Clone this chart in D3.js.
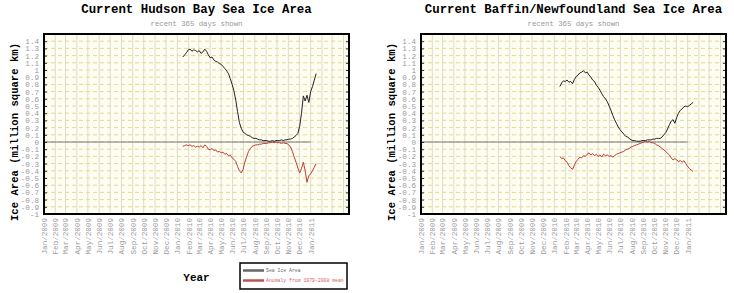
<!DOCTYPE html>
<html>
<head>
<meta charset="utf-8">
<script src="https://cdn.jsdelivr.net/npm/d3@7"></script>
<style>
  body { margin: 0; background: #fff; }
  text { font-family: "Liberation Mono", "DejaVu Sans Mono", monospace; }
</style>
</head>
<body>
<script>
// recent 365 days, one reading every 5 days starting here
var startDate = new Date(2010, 0, 16);
var stepDays = 5;

var hudsonArea = [
  1.18, 1.21, 1.24, 1.28, 1.29, 1.26, 1.28, 1.27, 1.25, 1.27,
  1.23, 1.25, 1.29, 1.26, 1.21, 1.17, 1.18, 1.14, 1.12, 1.11,
  1.09, 1.08, 1.05, 1.02, 0.99, 0.95, 0.88, 0.80, 0.71, 0.58,
  0.42, 0.27, 0.19, 0.14, 0.12, 0.10, 0.09, 0.08, 0.06, 0.05,
  0.05, 0.04, 0.03, 0.03, 0.02, 0.02, 0.02, 0.01, 0.01, 0.02,
  0.01, 0.02, 0.02, 0.02, 0.03, 0.02, 0.03, 0.03, 0.04, 0.04,
  0.05, 0.07, 0.09, 0.12, 0.22, 0.40, 0.64, 0.57, 0.65, 0.55,
  0.70, 0.77, 0.86, 0.95
];
var hudsonAnomaly = [
  -0.06, -0.05, -0.04, -0.05, -0.04, -0.06, -0.05, -0.07, -0.06, -0.07,
  -0.05, -0.08, -0.04, -0.06, -0.10, -0.11, -0.09, -0.12, -0.11, -0.14,
  -0.13, -0.15, -0.14, -0.17, -0.16, -0.19, -0.18, -0.22, -0.24, -0.27,
  -0.34, -0.40, -0.43, -0.38, -0.28, -0.20, -0.13, -0.09, -0.06, -0.05,
  -0.04, -0.04, -0.03, -0.03, -0.02, -0.02, -0.02, -0.01, -0.01, 0.00,
  -0.01, 0.00, -0.01, -0.01, -0.02, -0.01, -0.02, -0.02, -0.04, -0.07,
  -0.13, -0.21, -0.28, -0.36, -0.43, -0.37, -0.28, -0.40, -0.56, -0.47,
  -0.44, -0.40, -0.35, -0.30
];
var baffinArea = [
  0.77, 0.82, 0.85, 0.84, 0.86, 0.83, 0.84, 0.81, 0.87, 0.91,
  0.93, 0.96, 0.97, 0.99, 0.96, 0.97, 0.93, 0.90, 0.86, 0.84,
  0.79, 0.76, 0.72, 0.67, 0.63, 0.60, 0.56, 0.50, 0.44, 0.37,
  0.31, 0.26, 0.21, 0.17, 0.14, 0.11, 0.08, 0.07, 0.05, 0.03,
  0.02, 0.02, 0.01, 0.01, 0.01, 0.02, 0.02, 0.02, 0.03, 0.03,
  0.03, 0.04, 0.04, 0.05, 0.05, 0.05, 0.07, 0.10, 0.13, 0.18,
  0.24, 0.29, 0.31, 0.26, 0.34, 0.40, 0.44, 0.46, 0.49, 0.50,
  0.49, 0.51, 0.53, 0.55
];
var baffinAnomaly = [
  -0.20, -0.23, -0.22, -0.26, -0.28, -0.33, -0.36, -0.38, -0.32, -0.27,
  -0.24, -0.21, -0.22, -0.19, -0.20, -0.17, -0.15, -0.18, -0.16, -0.19,
  -0.17, -0.20, -0.18, -0.21, -0.17, -0.19, -0.18, -0.20, -0.19, -0.21,
  -0.19, -0.17, -0.16, -0.15, -0.14, -0.13, -0.11, -0.10, -0.09, -0.07,
  -0.06, -0.05, -0.04, -0.03, -0.02, -0.01, 0.00, 0.01, 0.00, 0.01,
  -0.01, -0.01, -0.02, -0.04, -0.05, -0.07, -0.09, -0.11, -0.13, -0.16,
  -0.18, -0.22, -0.25, -0.23, -0.25, -0.27, -0.26, -0.28, -0.26, -0.30,
  -0.34, -0.37, -0.39, -0.41
];

var yTicks = [1.4, 1.3, 1.2, 1.1, 1, 0.9, 0.8, 0.7, 0.6, 0.5, 0.4, 0.3, 0.2, 0.1, 0,
  -0.1, -0.2, -0.3, -0.4, -0.5, -0.6, -0.7, -0.8, -0.9, -1];
var monthLabels = d3.timeMonth.range(new Date(2009, 0, 1), new Date(2011, 0, 2));
var legendLabels = ['Sea Ice Area', 'Anomaly from 1979-2008 mean'];

var W = 734, H = 293;
var AREA_COLOR = '#222', ANOM_COLOR = '#c03a3a';

var svg = d3.select('body').append('svg')
  .attr('width', W)
  .attr('height', H);

function toSeries(values) {
  return values.map(function(v, i) {
    return { date: d3.timeDay.offset(startDate, i * stepDays), value: v };
  });
}

function drawPanel(left, title, area, anomaly, withLegend) {
  var top = 34, bottom = 214, width = 305;
  var g = svg.append('g');

  var x = d3.scaleTime()
    .domain([new Date(2009, 0, 1), new Date(2011, 3, 16)])
    .range([left, left + width]);
  var y = d3.scaleLinear()
    .domain([-1, 1.5])
    .range([bottom, top]);

  g.append('rect')
    .attr('x', left).attr('y', top)
    .attr('width', width).attr('height', bottom - top)
    .attr('fill', '#fdfdf1');

  // month grid
  g.append('g').selectAll('line')
      .data(d3.timeMonth.range(new Date(2009, 0, 1), new Date(2011, 3, 16)))
    .enter().append('line')
      .attr('x1', function(d) { return x(d); })
      .attr('x2', function(d) { return x(d); })
      .attr('y1', top).attr('y2', bottom)
      .attr('stroke', '#dcdcd4')
      .attr('stroke-width', 1);

  // value grid
  g.append('g').selectAll('line')
      .data(d3.range(-9, 15).map(function(d) { return d / 10; }))
    .enter().append('line')
      .attr('x1', left).attr('x2', left + width)
      .attr('y1', function(d) { return y(d); })
      .attr('y2', function(d) { return y(d); })
      .attr('stroke', '#e8d88e')
      .attr('stroke-dasharray', '4,3')
      .attr('stroke-width', 1);

  // zero line
  g.append('line')
    .attr('x1', x(new Date(2009, 0, 1))).attr('x2', x(new Date(2011, 0, 1)))
    .attr('y1', y(0)).attr('y2', y(0))
    .attr('stroke', '#777').attr('stroke-width', 1.2);

  var line = d3.line()
    .x(function(d) { return x(d.date); })
    .y(function(d) { return y(d.value); });

  g.append('path').datum(toSeries(area))
    .attr('d', line).attr('fill', 'none')
    .attr('stroke', AREA_COLOR).attr('stroke-width', 1);
  g.append('path').datum(toSeries(anomaly))
    .attr('d', line).attr('fill', 'none')
    .attr('stroke', ANOM_COLOR).attr('stroke-width', 1);

  // axes
  var ya = g.append('g')
    .attr('transform', 'translate(' + left + ',0)')
    .call(d3.axisLeft(y).tickValues(yTicks).tickSizeInner(-3).tickSizeOuter(0)
      .tickPadding(5).tickFormat(function(d) { return String(d); }));
  ya.select('.domain').remove();
  ya.selectAll('line').attr('stroke', '#333');
  ya.selectAll('text').attr('fill', '#999').style('font-size', '7.6px')
    .style('font-family', '"Liberation Mono", monospace');

  var yr = g.append('g')
    .attr('transform', 'translate(' + (left + width) + ',0)')
    .call(d3.axisRight(y).tickValues(yTicks).tickSizeInner(-3).tickSizeOuter(0)
      .tickFormat(''));
  yr.select('.domain').remove();
  yr.selectAll('line').attr('stroke', '#333');

  var xa = g.append('g')
    .attr('transform', 'translate(0,' + bottom + ')')
    .call(d3.axisBottom(x).tickValues(monthLabels).tickSize(0)
      .tickFormat(d3.timeFormat('%b/%Y')));
  xa.select('.domain').remove();
  xa.selectAll('text')
    .attr('transform', 'rotate(-90)')
    .attr('text-anchor', 'end')
    .attr('x', -4).attr('y', 0).attr('dy', '0.32em')
    .attr('fill', '#999').style('font-size', '7.6px')
    .style('font-family', '"Liberation Mono", monospace');

  g.append('rect')
    .attr('x', left).attr('y', top)
    .attr('width', width).attr('height', bottom - top)
    .attr('fill', 'none').attr('stroke', '#000').attr('stroke-width', 2);

  var cx = left + width / 2;
  g.append('text').text(title)
    .attr('x', cx).attr('y', 13)
    .attr('text-anchor', 'middle')
    .style('font-size', '12.4px').style('font-weight', 'bold');
  g.append('text').text('recent 365 days shown')
    .attr('x', cx).attr('y', 25.5)
    .attr('text-anchor', 'middle')
    .attr('fill', '#999')
    .style('font-size', '7.3px');

  g.append('text').text('Ice Area (million square km)')
    .attr('transform', 'translate(' + (left - 26) + ',' + ((top + bottom) / 2 + 8) + ') rotate(-90)')
    .attr('text-anchor', 'middle')
    .style('font-size', '10.6px').style('font-weight', 'bold');

  if (withLegend) {
    g.append('text').text('Year')
      .attr('x', cx).attr('y', 281)
      .attr('text-anchor', 'middle')
      .style('font-size', '11px').style('font-weight', 'bold');

    var lg = g.append('g');
    lg.append('rect')
      .attr('x', 240).attr('y', 263).attr('width', 107).attr('height', 26)
      .attr('fill', '#fff').attr('stroke', '#000').attr('stroke-width', 1.5);
    lg.selectAll('line.key')
        .data(legendLabels)
      .enter().append('line')
        .attr('class', 'key')
        .attr('x1', 243).attr('x2', 264)
        .attr('y1', function(d, i) { return 270.5 + i * 10; })
        .attr('y2', function(d, i) { return 270.5 + i * 10; })
        .attr('stroke', function(d, i) { return i ? '#c05050' : '#666'; })
        .attr('stroke-width', 2.5);
    lg.selectAll('text.key')
        .data(legendLabels)
      .enter().append('text')
        .attr('class', 'key')
        .text(function(d) { return d; })
        .attr('x', 266)
        .attr('y', function(d, i) { return 272 + i * 10; })
        .attr('fill', function(d, i) { return i ? '#d06060' : '#666'; })
        .style('font-size', '4.8px');
  }
}

drawPanel(44, 'Current Hudson Bay Sea Ice Area', hudsonArea, hudsonAnomaly, true);
drawPanel(421, 'Current Baffin/Newfoundland Sea Ice Area', baffinArea, baffinAnomaly, false);
</script>
</body>
</html>
